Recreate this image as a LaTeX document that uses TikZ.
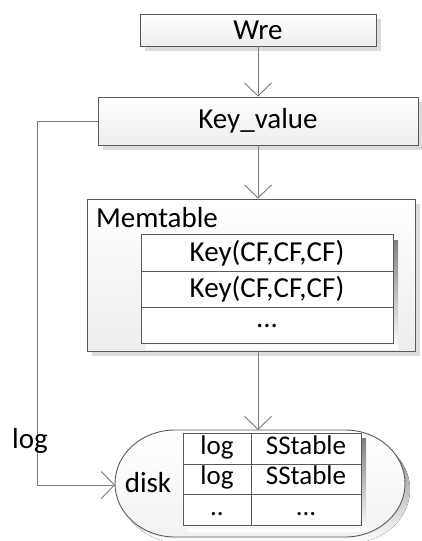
\documentclass[tikz,border=0pt]{standalone}
\usepackage{fontspec}
\setmainfont{Carlito}
\usetikzlibrary{arrows.meta,shadows}
\definecolor{edge}{HTML}{5A5A5A}
\definecolor{wire}{HTML}{7A7A7A}
\definecolor{shade}{HTML}{DCDCDC}
\tikzset{
  box/.style={draw=edge, line width=0.9pt, top color=white, bottom color=gray!14,
    inner sep=0pt, font=\fontsize{29}{34}\selectfont,
    drop shadow={shadow xshift=5pt, shadow yshift=-5pt, fill=shade, opacity=1}},
  cell/.style={draw=edge, line width=0.9pt, fill=white, inner sep=0pt,
    font=\fontsize{29}{34}\selectfont},
  small cell/.style={cell, font=\fontsize{27}{30}\selectfont, text height=16pt, text depth=5pt},
  lbl/.style={inner sep=0pt, font=\fontsize{29}{34}\selectfont},
  flow/.style={draw=wire, line width=0.9pt, -{Straight Barb[length=13pt,width=27pt,line width=0.9pt]}},
}
\begin{document}
\begin{tikzpicture}[x=1pt,y=-1pt]
\useasboundingbox (0,0) rectangle (422,541);
% top boxes
\node[box, minimum width=236pt, minimum height=32pt] (wre) at (258,30) {Wre};
\node[box, minimum width=320pt, minimum height=48pt] (kv) at (258,121) {Key\_value};
% memtable frame and its rows
\node[box, minimum width=328pt, minimum height=152pt] (mem) at (251,275) {};
\node[lbl, anchor=west] (memlbl) at (96,218) {Memtable};
\fill[shade] (146,240) rectangle (398,349);
\node[cell, minimum width=252pt, minimum height=36.3pt] (r1) at (267,253) {Key(CF,CF,CF)};
\node[cell, minimum width=252pt, minimum height=36.3pt] (r2) at (267,289.3) {Key(CF,CF,CF)};
\node[cell, minimum width=252pt, minimum height=36.3pt] (r3) at (267,325.6) {\raisebox{-2pt}{...}};
% disk drum
\fill[shade] (180,436) -- (350,436) arc (-90:90:60 and 53.5) -- (180,543) arc (90:270:60 and 53.5) -- cycle;
\draw[edge, line width=0.9pt, top color=white, bottom color=gray!10]
  (175,430) -- (345,430) arc (-90:90:60 and 53.5) -- (175,537) arc (90:270:60 and 53.5) -- cycle;
\coordinate (disktop) at (258,430);
\coordinate (diskleft) at (115,485);
\node[lbl] (disk) at (148,483) {disk};
% disk table
\fill[shade] (188,438) rectangle (366,531);
\node[small cell, minimum width=68pt, minimum height=31pt] (l1) at (217,448.5) {log};
\node[small cell, minimum width=110pt, minimum height=31pt] (s1) at (306,448.5) {SStable};
\node[small cell, minimum width=68pt, minimum height=30pt] (l2) at (217,479) {log};
\node[small cell, minimum width=110pt, minimum height=30pt] (s2) at (306,479) {SStable};
\node[small cell, minimum width=68pt, minimum height=31pt] (l3) at (217,509.5) {..};
\node[small cell, minimum width=110pt, minimum height=31pt] (s3) at (306,509.5) {...};
% connectors
\draw[flow] (wre.south) -- (kv.north);
\draw[flow] (kv.south) -- (mem.north -| kv.south);
\draw[flow] (mem.south -| kv.south) -- (disktop);
\draw[flow] (kv.west) -- (37,121) -- (37,485) -- (diskleft);
\node[lbl] (loglbl) at (30,441) {log};
\end{tikzpicture}
\end{document}
